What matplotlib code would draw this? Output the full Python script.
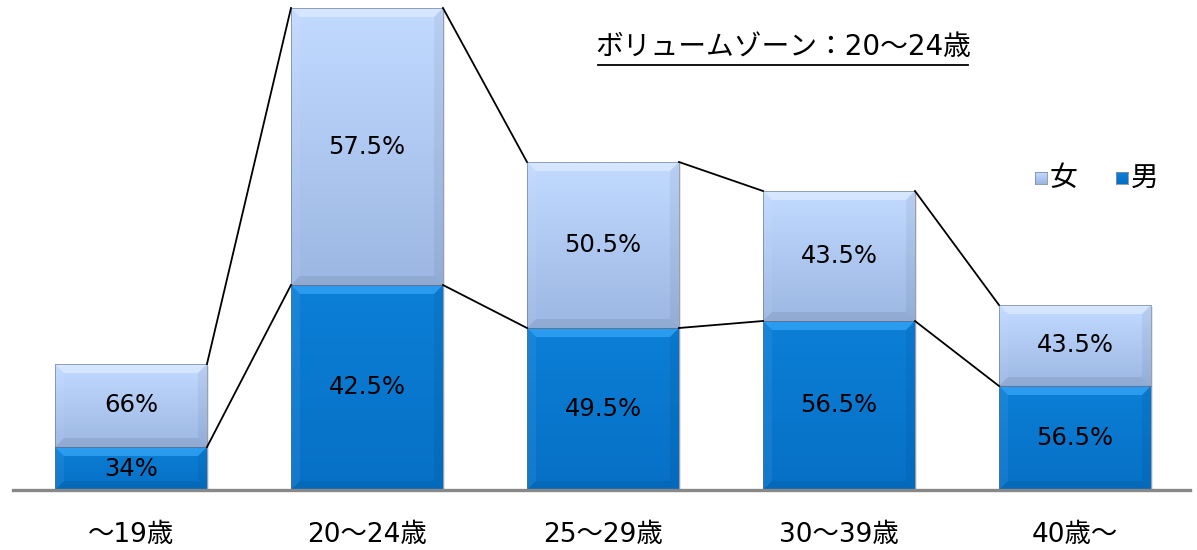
import numpy as np
import matplotlib
matplotlib.use("Agg")
import matplotlib.pyplot as plt
from matplotlib.patches import Polygon, Rectangle
from matplotlib.colors import LinearSegmentedColormap

plt.rcParams['font.family'] = ['DejaVu Sans', 'Noto Sans CJK JP']

categories = ["～19歳", "20～24歳", "25～29歳", "30～39歳", "40歳～"]
male = [43, 205, 162, 169, 104]
female = [83, 277, 166, 130, 81]
male_labels = ["34%", "42.5%", "49.5%", "56.5%", "56.5%"]
female_labels = ["66%", "57.5%", "50.5%", "43.5%", "43.5%"]
note = "ボリュームゾーン：20～24歳"

female_cmap = LinearSegmentedColormap.from_list("f", ["#9cb7e3", "#c2daff"])
male_cmap = LinearSegmentedColormap.from_list("m", ["#0670c6", "#0c7fd6"])

fig = plt.figure(figsize=(11.97, 5.5), dpi=100)
ax = fig.add_axes([0, 60 / 550, 1, 490 / 550])
ax.set_xlim(-0.555, 4.517)
ax.set_ylim(0, 490)
for s in ax.spines.values():
    s.set_visible(False)
ax.set_yticks([])
ax.axhline(0, xmin=13 / 1197, xmax=1190 / 1197, color="#888888", lw=2.4, zorder=5,
           clip_on=False)

w = 0.644
bev_x = 9 / 236
bev_y = 9


def seg(x, y0, h, cmap, top_col):
    x0, x1 = x - w / 2, x + w / 2
    grad = np.linspace(0, 1, 100).reshape(-1, 1)
    # soft shadow
    ax.add_patch(Rectangle((x0 + 0.01, y0 - 2), w, h, color="#000000", alpha=0.10, lw=0, zorder=1))
    ax.imshow(grad, extent=(x0, x1, y0, y0 + h), origin="lower", cmap=cmap,
              aspect="auto", zorder=2)
    bx = min(bev_x, w / 4)
    by = min(bev_y, h / 4)
    y1 = y0 + h
    ax.add_patch(Polygon([(x0, y1), (x1, y1), (x1 - bx, y1 - by), (x0 + bx, y1 - by)],
                         color=top_col, alpha=0.6, lw=0, zorder=3))
    ax.add_patch(Polygon([(x0, y0), (x1, y0), (x1 - bx, y0 + by), (x0 + bx, y0 + by)],
                         color="black", alpha=0.07, lw=0, zorder=3))
    ax.add_patch(Polygon([(x0, y0), (x0, y1), (x0 + bx, y1 - by), (x0 + bx, y0 + by)],
                         color="white", alpha=0.06, lw=0, zorder=3))
    ax.add_patch(Polygon([(x1, y0), (x1, y1), (x1 - bx, y1 - by), (x1 - bx, y0 + by)],
                         color="black", alpha=0.05, lw=0, zorder=3))
    ax.add_patch(Rectangle((x0, y0), w, h, fill=False, ec="#5f6f88", lw=0.7, alpha=0.6, zorder=4))


xs = np.arange(len(categories))
totals = [m + f for m, f in zip(male, female)]
for i, x in enumerate(xs):
    seg(x, 0, male[i], male_cmap, "#3fb0ff")
    seg(x, male[i], female[i], female_cmap, "#e4efff")
    ax.text(x, male[i] / 2, male_labels[i], ha="center", va="center", fontsize=17.5, zorder=6)
    ax.text(x, male[i] + female[i] / 2, female_labels[i], ha="center", va="center",
            fontsize=17.5, zorder=6)

# series lines
for i in range(len(xs) - 1):
    ax.plot([xs[i] + w / 2, xs[i + 1] - w / 2], [totals[i], totals[i + 1]],
            color="black", lw=1.3, zorder=5)
    ax.plot([xs[i] + w / 2, xs[i + 1] - w / 2], [male[i], male[i + 1]],
            color="black", lw=1.3, zorder=5)

ax.set_xticks(xs)
ax.set_xticklabels(categories, fontsize=19)
ax.tick_params(axis="x", length=0, pad=23)

# note with underline
fig.text(783 / 1197, 1 - 47 / 550, note, ha="center", va="center", fontsize=20)
fig.add_artist(plt.Line2D([598 / 1197, 968 / 1197], [1 - 65 / 550, 1 - 65 / 550],
                          color="black", lw=1.3))

# legend
lx = [1041, 1122]
for px, cmap, lab in zip(lx, [female_cmap, male_cmap], ["女", "男"]):
    lax = fig.add_axes([(px - 6) / 1197, 1 - 184 / 550, 12 / 1197, 12 / 550])
    lax.imshow(np.linspace(0, 1, 20).reshape(-1, 1), origin="lower", cmap=cmap, aspect="auto")
    lax.set_xticks([])
    lax.set_yticks([])
    for s in lax.spines.values():
        s.set_color("#7f8fa8")
        s.set_linewidth(0.6)
    fig.text((px + 9) / 1197, 1 - 178 / 550, lab, ha="left", va="center", fontsize=20)

fig.savefig("out.png", dpi=100)
